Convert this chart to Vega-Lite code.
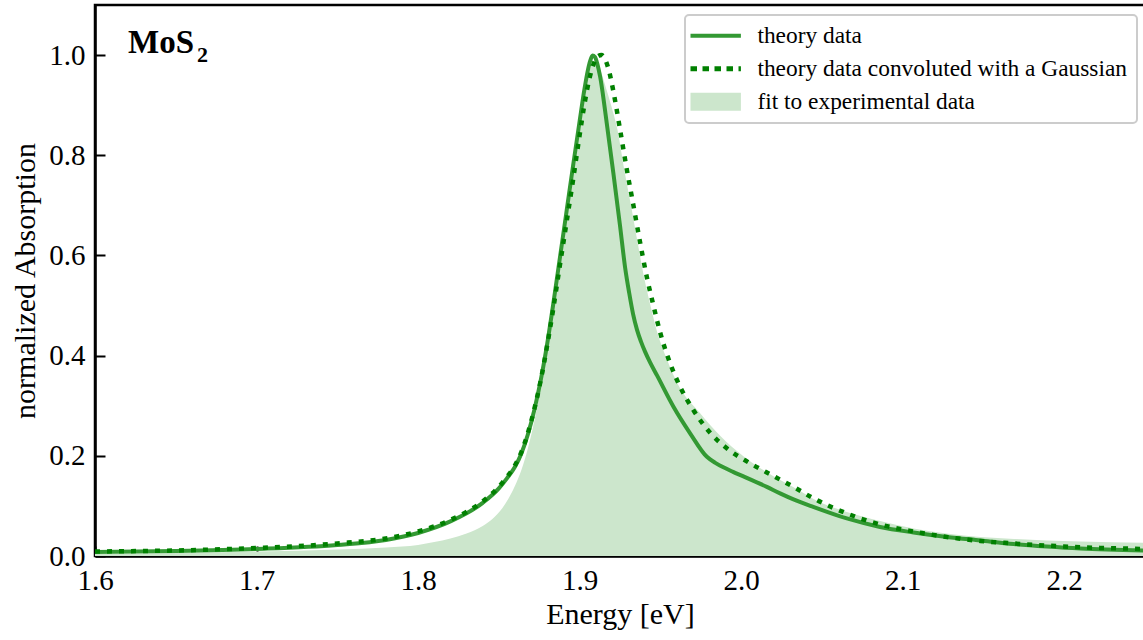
{
  "$schema": "https://vega.github.io/schema/vega-lite/v6.json",
  "width": 1050,
  "height": 551,
  "autosize": "none",
  "padding": {"left": 95, "top": 5, "right": 0, "bottom": 84},
  "background": "white",
  "config": {
    "view": {"stroke": "black", "strokeWidth": 2.5},
    "axis": {
      "labelFont": "Liberation Serif", "titleFont": "Liberation Serif",
      "labelFontSize": 29, "titleFontSize": 30, "titleFontWeight": "normal",
      "labelColor": "black", "titleColor": "black",
      "domainColor": "black", "domainWidth": 2.5,
      "tickColor": "black", "tickWidth": 2, "tickSize": -10,
      "grid": false, "labelPadding": 20, "labelFlush": false, "labelOverlap": false
    },
    "legend": {
      "orient": "none", "legendX": 590, "legendY": 10,
      "labelFont": "Liberation Serif", "labelFontSize": 23.4, "labelColor": "black",
      "labelLimit": 600, "padding": 9, "strokeColor": "#cccccc", "strokeWidth": 2, "fillColor": "white",
      "cornerRadius": 4, "symbolSize": 576, "symbolOffset": 10, "labelOffset": 30, "rowPadding": 8
    }
  },
  "datasets": {
    "theory": [
      {"e": 1.600, "a": 0.008}, {"e": 1.650, "a": 0.010}, {"e": 1.700, "a": 0.014},
      {"e": 1.750, "a": 0.022}, {"e": 1.780, "a": 0.032}, {"e": 1.800, "a": 0.046},
      {"e": 1.820, "a": 0.069}, {"e": 1.840, "a": 0.106}, {"e": 1.850, "a": 0.135},
      {"e": 1.855, "a": 0.155}, {"e": 1.860, "a": 0.178}, {"e": 1.864, "a": 0.205},
      {"e": 1.868, "a": 0.243}, {"e": 1.872, "a": 0.292}, {"e": 1.876, "a": 0.352},
      {"e": 1.880, "a": 0.425}, {"e": 1.884, "a": 0.510}, {"e": 1.888, "a": 0.600},
      {"e": 1.892, "a": 0.690}, {"e": 1.896, "a": 0.780}, {"e": 1.900, "a": 0.868},
      {"e": 1.903, "a": 0.932}, {"e": 1.905, "a": 0.968}, {"e": 1.9065, "a": 0.988},
      {"e": 1.908, "a": 0.999}, {"e": 1.9095, "a": 0.996}, {"e": 1.911, "a": 0.982},
      {"e": 1.9127, "a": 0.957}, {"e": 1.9168, "a": 0.864}, {"e": 1.9209, "a": 0.764},
      {"e": 1.925, "a": 0.660}, {"e": 1.9282, "a": 0.575}, {"e": 1.9307, "a": 0.525},
      {"e": 1.9331, "a": 0.483}, {"e": 1.9355, "a": 0.452}, {"e": 1.938, "a": 0.428},
      {"e": 1.9405, "a": 0.408}, {"e": 1.9437, "a": 0.386}, {"e": 1.948, "a": 0.360},
      {"e": 1.9581, "a": 0.298}, {"e": 1.9684, "a": 0.245}, {"e": 1.9788, "a": 0.198},
      {"e": 1.984, "a": 0.186}, {"e": 1.989, "a": 0.177}, {"e": 1.995, "a": 0.168},
      {"e": 2.0014, "a": 0.159}, {"e": 2.0159, "a": 0.138},
      {"e": 2.0241, "a": 0.125}, {"e": 2.0324, "a": 0.113}, {"e": 2.0446, "a": 0.098},
      {"e": 2.0654, "a": 0.075}, {"e": 2.086, "a": 0.058}, {"e": 2.1067, "a": 0.047},
      {"e": 2.1274, "a": 0.038}, {"e": 2.148, "a": 0.031}, {"e": 2.1687, "a": 0.024},
      {"e": 2.1893, "a": 0.019}, {"e": 2.21, "a": 0.015}, {"e": 2.25, "a": 0.011}
    ],
    "conv": [
      {"e": 1.600, "a": 0.009}, {"e": 1.650, "a": 0.011}, {"e": 1.700, "a": 0.016},
      {"e": 1.750, "a": 0.025}, {"e": 1.780, "a": 0.035}, {"e": 1.800, "a": 0.049},
      {"e": 1.820, "a": 0.072}, {"e": 1.840, "a": 0.109}, {"e": 1.850, "a": 0.138},
      {"e": 1.855, "a": 0.158}, {"e": 1.860, "a": 0.181}, {"e": 1.864, "a": 0.208},
      {"e": 1.868, "a": 0.246}, {"e": 1.872, "a": 0.294}, {"e": 1.876, "a": 0.352},
      {"e": 1.880, "a": 0.422}, {"e": 1.884, "a": 0.500}, {"e": 1.888, "a": 0.585},
      {"e": 1.892, "a": 0.668}, {"e": 1.896, "a": 0.752}, {"e": 1.900, "a": 0.840},
      {"e": 1.903, "a": 0.902}, {"e": 1.906, "a": 0.952}, {"e": 1.909, "a": 0.985},
      {"e": 1.9115, "a": 0.998}, {"e": 1.9135, "a": 1.000}, {"e": 1.916, "a": 0.990},
      {"e": 1.9179, "a": 0.972}, {"e": 1.921, "a": 0.926}, {"e": 1.9251, "a": 0.850},
      {"e": 1.9292, "a": 0.772}, {"e": 1.9333, "a": 0.700}, {"e": 1.9375, "a": 0.625},
      {"e": 1.9416, "a": 0.557}, {"e": 1.9457, "a": 0.500}, {"e": 1.9498, "a": 0.447},
      {"e": 1.956, "a": 0.385}, {"e": 1.9622, "a": 0.338}, {"e": 1.9705, "a": 0.291},
      {"e": 1.9808, "a": 0.246}, {"e": 1.9911, "a": 0.215}, {"e": 2.0056, "a": 0.185},
      {"e": 2.0198, "a": 0.160}, {"e": 2.0324, "a": 0.138}, {"e": 2.0448, "a": 0.115},
      {"e": 2.0654, "a": 0.085}, {"e": 2.086, "a": 0.063}, {"e": 2.1067, "a": 0.049},
      {"e": 2.1274, "a": 0.038}, {"e": 2.148, "a": 0.030}, {"e": 2.1687, "a": 0.025},
      {"e": 2.1995, "a": 0.019}, {"e": 2.25, "a": 0.014}
    ],
    "fit": [
      {"e": 1.600, "a": 0.004}, {"e": 1.650, "a": 0.006}, {"e": 1.700, "a": 0.009},
      {"e": 1.750, "a": 0.013}, {"e": 1.780, "a": 0.017}, {"e": 1.800, "a": 0.022},
      {"e": 1.810, "a": 0.028}, {"e": 1.820, "a": 0.035}, {"e": 1.830, "a": 0.045},
      {"e": 1.840, "a": 0.060}, {"e": 1.846, "a": 0.074}, {"e": 1.852, "a": 0.095},
      {"e": 1.856, "a": 0.115}, {"e": 1.860, "a": 0.140}, {"e": 1.864, "a": 0.172},
      {"e": 1.868, "a": 0.215}, {"e": 1.872, "a": 0.270}, {"e": 1.876, "a": 0.338},
      {"e": 1.880, "a": 0.415}, {"e": 1.884, "a": 0.495}, {"e": 1.888, "a": 0.580},
      {"e": 1.892, "a": 0.668}, {"e": 1.896, "a": 0.756}, {"e": 1.900, "a": 0.845},
      {"e": 1.903, "a": 0.910}, {"e": 1.9055, "a": 0.958}, {"e": 1.908, "a": 0.985},
      {"e": 1.910, "a": 0.990}, {"e": 1.912, "a": 0.977}, {"e": 1.916, "a": 0.938},
      {"e": 1.9195, "a": 0.900}, {"e": 1.9235, "a": 0.850}, {"e": 1.9277, "a": 0.770},
      {"e": 1.9318, "a": 0.700}, {"e": 1.936, "a": 0.624}, {"e": 1.940, "a": 0.555},
      {"e": 1.944, "a": 0.498}, {"e": 1.948, "a": 0.447}, {"e": 1.954, "a": 0.393},
      {"e": 1.9605, "a": 0.345}, {"e": 1.9746, "a": 0.285}, {"e": 1.987, "a": 0.240},
      {"e": 2.0014, "a": 0.199}, {"e": 2.0159, "a": 0.167}, {"e": 2.0365, "a": 0.130},
      {"e": 2.0448, "a": 0.114}, {"e": 2.0654, "a": 0.088}, {"e": 2.086, "a": 0.070},
      {"e": 2.1067, "a": 0.055}, {"e": 2.127, "a": 0.045}, {"e": 2.148, "a": 0.038},
      {"e": 2.169, "a": 0.034}, {"e": 2.189, "a": 0.031}, {"e": 2.21, "a": 0.029},
      {"e": 2.25, "a": 0.0265}
    ]
  },
  "layer": [
    {
      "data": {"name": "fit"},
      "mark": {"type": "area", "interpolate": "monotone", "clip": true, "opacity": 1},
      "encoding": {
        "x": {"field": "e", "type": "quantitative", "scale": {"domain": [1.6, 2.25], "nice": false, "zero": false},
              "axis": {"values": [1.6, 1.7, 1.8, 1.9, 2.0, 2.1, 2.2], "format": ".1f", "title": "Energy [eV]", "titlePadding": 4}},
        "y": {"field": "a", "type": "quantitative", "scale": {"domain": [0, 1.1], "nice": false},
              "axis": {"values": [0, 0.2, 0.4, 0.6, 0.8, 1.0], "format": ".1f", "title": "normalized Absorption", "titlePadding": 8}},
        "color": {"datum": "fit to experimental data", "type": "nominal",
          "scale": {"domain": ["theory data", "theory data convoluted with a Gaussian", "fit to experimental data"],
                    "range": ["#339933", "#008000", "#cce6cc"]},
          "legend": {
            "title": null,
            "symbolType": {"expr": "datum.value === 'fit to experimental data' ? 'M-2.1,-0.75H2.1V0.75H-2.1Z' : 'M-2.1,0H2.1'"},
            "symbolStrokeColor": {"expr": "datum.value === 'theory data' ? '#339933' : (datum.value === 'fit to experimental data' ? 'transparent' : '#008000')"},
            "symbolStrokeWidth": {"expr": "datum.value === 'theory data convoluted with a Gaussian' ? 5 : (datum.value === 'theory data' ? 4 : 0)"},
            "symbolDash": {"expr": "datum.value === 'theory data convoluted with a Gaussian' ? [6.5, 5.5] : [1, 0]"},
            "symbolOpacity": 1
          }
        }
      }
    },
    {
      "data": {"name": "theory"},
      "mark": {"type": "line", "interpolate": "monotone", "clip": true, "strokeWidth": 4, "color": "#339933"},
      "encoding": {
        "x": {"field": "e", "type": "quantitative"},
        "y": {"field": "a", "type": "quantitative"}
      }
    },
    {
      "data": {"name": "conv"},
      "mark": {"type": "line", "interpolate": "monotone", "clip": true, "strokeWidth": 4.5, "strokeDash": [5, 7], "color": "#008000"},
      "encoding": {
        "x": {"field": "e", "type": "quantitative"},
        "y": {"field": "a", "type": "quantitative"}
      }
    },
    {
      "data": {"values": [{}]},
      "mark": {"type": "text", "text": "MoS", "font": "Liberation Serif", "fontWeight": "bold", "fontSize": 33, "align": "left", "baseline": "alphabetic", "color": "black"},
      "encoding": {"x": {"datum": 1.6205, "type": "quantitative"}, "y": {"datum": 1.004, "type": "quantitative"}}
    },
    {
      "data": {"values": [{}]},
      "mark": {"type": "text", "text": "2", "font": "Liberation Serif", "fontWeight": "bold", "fontSize": 22, "align": "left", "baseline": "alphabetic", "color": "black", "dx": 69, "dy": 9},
      "encoding": {"x": {"datum": 1.6205, "type": "quantitative"}, "y": {"datum": 1.004, "type": "quantitative"}}
    }
  ]
}
